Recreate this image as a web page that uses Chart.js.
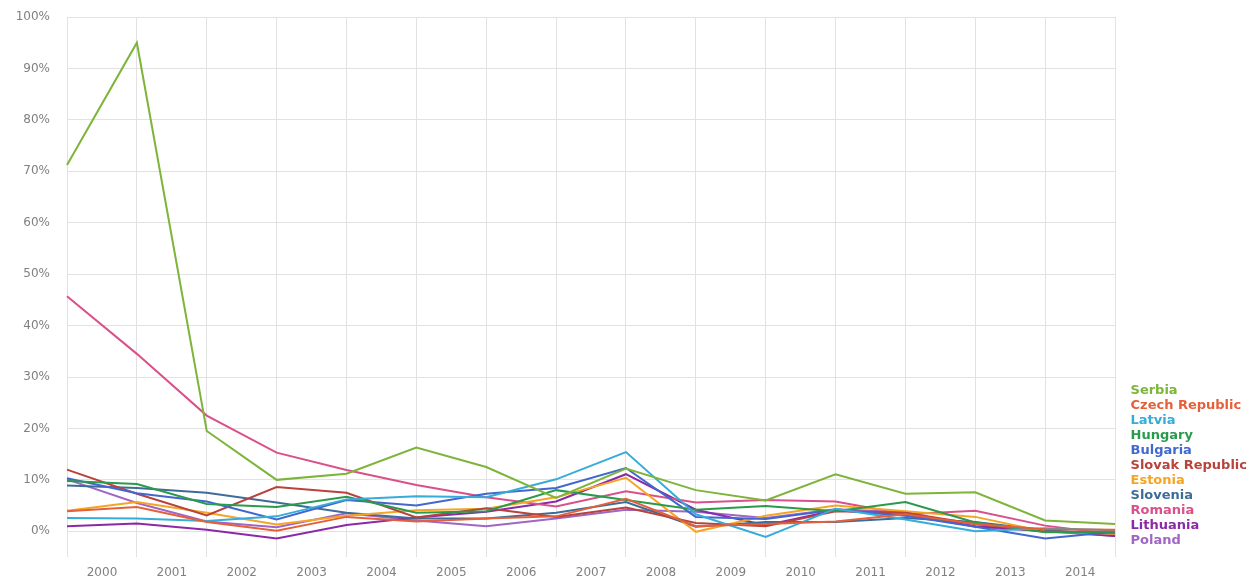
<!DOCTYPE html>
<html>
<head>
<meta charset="utf-8">
<script src="https://cdn.jsdelivr.net/npm/chart.js@4.4.1/dist/chart.umd.min.js"></script>
<style>
html,body{margin:0;padding:0;background:#fff;}
#wrap{width:1258px;height:581px;position:relative;}
</style>
</head>
<body>
<div id="wrap"><canvas id="c"></canvas></div>
<script>
// Categories (data points sit on the vertical grid lines)
const years = ['2000','2001','2002','2003','2004','2005','2006','2007','2008','2009','2010','2011','2012','2013','2014','2015'];
// Tick labels shown between grid lines
const tickLabels = ['2000','2001','2002','2003','2004','2005','2006','2007','2008','2009','2010','2011','2012','2013','2014'];
const yTicks = [0,10,20,30,40,50,60,70,80,90,100];

const seriesNames = ['Serbia','Czech Republic','Latvia','Hungary','Bulgaria','Slovak Republic','Estonia','Slovenia','Romania','Lithuania','Poland'];

const serbia    = [71.2, 95.0, 19.5, 10.0, 11.2, 16.3, 12.5, 6.5, 12.2, 8.0, 6.0, 11.1, 7.3, 7.6, 2.1, 1.4];
const czech     = [3.9, 4.7, 1.8, 0.1, 2.8, 1.9, 2.5, 2.9, 6.3, 1.0, 1.4, 1.9, 3.3, 1.4, 0.4, 0.3];
const latvia    = [2.6, 2.5, 2.0, 2.9, 6.2, 6.8, 6.6, 10.1, 15.4, 3.3, -1.1, 4.4, 2.3, 0.0, 0.6, 0.2];
const hungary   = [9.8, 9.2, 5.3, 4.7, 6.7, 3.6, 3.9, 8.0, 6.1, 4.2, 4.9, 3.9, 5.7, 1.7, -0.2, -0.1];
const bulgaria  = [10.3, 7.4, 5.8, 2.3, 6.1, 5.0, 7.3, 8.4, 12.3, 2.8, 2.4, 4.2, 3.0, 0.9, -1.4, -0.1];
const slovakia  = [12.0, 7.3, 3.1, 8.6, 7.5, 2.7, 4.5, 2.8, 4.6, 1.6, 1.0, 3.9, 3.6, 1.4, -0.1, -0.3];
const estonia   = [4.0, 5.7, 3.6, 1.3, 3.0, 4.1, 4.4, 6.6, 10.4, -0.1, 3.0, 5.0, 3.9, 2.8, -0.1, -0.5];
const slovenia  = [8.9, 8.4, 7.5, 5.6, 3.6, 2.5, 2.5, 3.6, 5.7, 0.9, 1.8, 1.8, 2.6, 1.8, 0.2, -0.5];
const romania   = [45.7, 34.5, 22.5, 15.3, 11.9, 9.0, 6.6, 4.8, 7.8, 5.6, 6.1, 5.8, 3.3, 4.0, 1.1, -0.6];
const lithuania = [1.0, 1.5, 0.3, -1.4, 1.2, 2.7, 3.8, 5.8, 11.1, 4.2, 1.2, 4.1, 3.1, 1.0, 0.1, -0.9];
const poland    = [10.1, 5.5, 1.9, 0.8, 3.5, 2.1, 1.0, 2.5, 4.2, 3.8, 2.6, 4.3, 3.7, 0.9, 0.0, -0.9];

const seriesValues = [serbia, czech, latvia, hungary, bulgaria, slovakia, estonia, slovenia, romania, lithuania, poland];
const seriesColors = ['#7db43a','#e4603a','#36acd9','#2b9a4c','#4267cf','#b8423c','#f5a524','#3d6c98','#d9508a','#8a2aa8','#a066c6'];

const legendShift = {
  id: 'legendShift',
  afterLayout(chart) {
    const lg = chart.legend;
    if (!lg) return;
    const d = lg.bottom - 549;
    lg.top -= d;
    lg.bottom -= d;
  }
};

const gridColor = '#e2e2e2';
const tickFont = {family: 'DejaVu Sans', size: 12};

new Chart(document.getElementById('c'), {
  type: 'line',
  data: {
    labels: years,
    datasets: seriesNames.map((n, i) => ({
      label: n,
      data: seriesValues[i],
      borderColor: seriesColors[i],
      backgroundColor: seriesColors[i],
      borderWidth: 2,
      pointRadius: 0,
      tension: 0,
      fill: false
    }))
  },
  options: {
    responsive: true,
    maintainAspectRatio: false,
    animation: false,
    layout: {padding: {top: 0, left: 17, right: 1, bottom: 1}},
    plugins: {
      title: {display: false},
      tooltip: {enabled: false},
      legend: {
        position: 'right',
        align: 'end',
        fullSize: false,
        labels: {
          boxWidth: 7,
          boxHeight: 0,
          padding: 2,
          font: {family: 'DejaVu Sans', size: 13, weight: 'bold'},
          generateLabels(chart) {
            return chart.data.datasets.map((ds, i) => ({
              text: ds.label,
              fontColor: ds.borderColor,
              fillStyle: 'rgba(0,0,0,0)',
              strokeStyle: 'rgba(0,0,0,0)',
              lineWidth: 0,
              hidden: false,
              datasetIndex: i
            }));
          }
        }
      }
    },
    scales: {
      x: {
        type: 'category',
        offset: false,
        border: {display: false},
        grid: {color: gridColor, lineWidth: 1, drawTicks: false},
        afterFit(scale) { scale.height = 23; },
        ticks: {
          autoSkip: false,
          maxRotation: 0,
          padding: 9,
          labelOffset: 35,
          color: '#808080',
          font: tickFont,
          callback: (v, i) => (i < tickLabels.length ? tickLabels[i] : '')
        }
      },
      y: {
        min: -5,
        max: 100,
        border: {display: false},
        grid: {color: gridColor, lineWidth: 1, drawTicks: false},
        afterBuildTicks(scale) { scale.ticks = yTicks.map(v => ({value: v})); },
        afterFit(scale) { scale.width = 50; scale.paddingTop = 17; scale.paddingBottom = 0; },
        ticks: {
          padding: 17,
          color: '#808080',
          font: tickFont,
          callback: v => v + '%'
        }
      }
    }
  },
  plugins: [legendShift]
});
</script>
</body>
</html>
